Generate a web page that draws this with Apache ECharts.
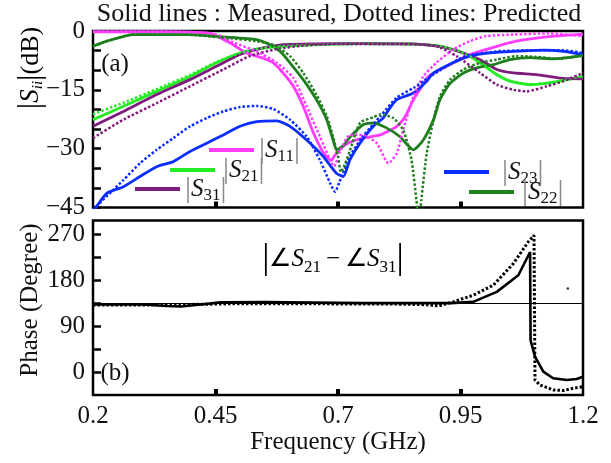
<!DOCTYPE html>
<html><head><meta charset="utf-8">
<script src="https://cdn.jsdelivr.net/npm/echarts@6/dist/echarts.min.js"></script>
<style>html,body{margin:0;padding:0;background:#fff}#c{width:611px;height:463px}</style>
</head><body><div id="c"></div>
<script>
const FONT = '"Liberation Serif","Times New Roman",serif';

// ---- axes / ticks ----
const xTickLabels = [0.2, 0.45, 0.7, 0.95, 1.2];
const xInnerTicks = [0.45, 0.7, 0.95];
const dbLabels = [0, -15, -30, -45];
const dbTicks = [0, -5, -10, -15, -20, -25, -30, -35, -40, -45];
const phaseLabels = [0, 90, 180, 270];
const phaseTicks = [0, 45, 90, 135, 180, 225, 270];
const phaseRef = 135;

// ---- |S11| ----
const s11MeasF = [0.2,0.3,0.4,0.44,0.452,0.486,0.513,0.547,0.568,0.588,0.609,0.629,0.65,0.67,0.686,0.692,0.7,0.72,0.751,0.786,0.82,0.837,0.854,0.871,0.884,0.922,0.969,1.024,1.064,1.126,1.2];
const s11MeasDb = [-0.2,-0.2,-0.3,-0.6,-1.3,-3.5,-5.6,-6.9,-8.1,-10.7,-14.1,-19.2,-26,-31,-33,-32,-30.5,-28.6,-27.3,-26.5,-24.3,-21.8,-17.5,-14.1,-11.6,-9,-6,-3.9,-2.6,-1.5,-0.8];
const s11PredF = [0.2,0.3,0.4,0.45,0.486,0.534,0.575,0.609,0.636,0.663,0.684,0.692,0.705,0.724,0.751,0.779,0.803,0.82,0.833,0.854,0.874,0.901,0.935,0.969,1.003,1.058,1.13,1.2];
const s11PredDb = [-0.1,-0.1,-0.3,-0.8,-2.9,-5.2,-8.1,-12,-19.2,-26.9,-32.9,-34.5,-30.5,-26.5,-26.5,-28.6,-33.7,-31.2,-25.2,-16.7,-11.6,-8.1,-4.7,-2.6,-1.3,-0.9,-0.6,-1.3];

// ---- |S21| ----
const s21MeasF = [0.2,0.262,0.33,0.398,0.452,0.5,0.548,0.588,0.65,0.75,0.85,0.908,0.956,0.99,1.024,1.051,1.092,1.126,1.16,1.2];
const s21MeasDb = [-22.6,-19.2,-15.4,-11.6,-8.1,-5.6,-4.3,-3.9,-3.5,-3.2,-3.3,-3.9,-5.6,-8.1,-11.1,-12.8,-13.7,-13.3,-12.6,-11.7];
const s21PredF = [0.2,0.262,0.33,0.398,0.452,0.5,0.548,0.6,0.7,0.8,0.9,0.95,0.99,1.024,1.058,1.1,1.14,1.2];
const s21PredDb = [-21.2,-18.3,-14.8,-11.2,-7.9,-5.6,-4.4,-3.8,-3.3,-3.3,-3.7,-5.2,-8.0,-11.2,-13.0,-13.6,-13.0,-11.4];

// ---- |S31| ----
const s31MeasF = [0.2,0.262,0.33,0.398,0.452,0.5,0.548,0.588,0.65,0.75,0.85,0.9,0.922,0.956,0.99,1.024,1.058,1.105,1.153,1.2];
const s31MeasDb = [-24.3,-20.5,-16.2,-12.4,-9,-6,-4.3,-3.5,-3.3,-3.2,-3.3,-3.8,-4.3,-5.6,-7.3,-9.8,-10.7,-11.1,-12,-12.2];
const s31PredF = [0.2,0.262,0.33,0.398,0.466,0.52,0.575,0.63,0.7,0.8,0.88,0.908,0.942,0.99,1.024,1.058,1.085,1.126,1.16,1.2];
const s31PredDb = [-27.3,-22.6,-18.4,-14.1,-9.8,-6.4,-4.6,-3.7,-3.3,-3.3,-3.5,-4.2,-6.4,-10.7,-13.7,-15,-15.4,-14.1,-12.8,-10.7];

// ---- |S23| ----
const s23MeasF = [0.2,0.207,0.228,0.262,0.296,0.33,0.364,0.398,0.432,0.466,0.5,0.534,0.575,0.602,0.636,0.67,0.697,0.711,0.724,0.745,0.772,0.792,0.806,0.82,0.854,0.881,0.895,0.935,0.969,1.01,1.058,1.12,1.16,1.2];
const s23MeasDb = [-46.5,-44.8,-41.4,-39.7,-37.1,-34.6,-33.3,-30.7,-28.6,-26.5,-24.3,-23.1,-22.9,-24.3,-27.8,-32,-36.3,-37.1,-32.9,-28.6,-24.3,-22.2,-19.6,-17.5,-15.8,-12.8,-10.7,-8.1,-6.4,-5.6,-5.2,-4.9,-5.2,-6];
const s23PredF = [0.2,0.262,0.296,0.33,0.364,0.398,0.432,0.466,0.5,0.534,0.568,0.602,0.636,0.663,0.684,0.694,0.703,0.724,0.75,0.786,0.82,0.854,0.888,0.956,1.024,1.1,1.16,1.2];
const s23PredDb = [-45.5,-38,-33.7,-30.3,-27.3,-24.3,-22.2,-20.5,-19.4,-19.1,-19.9,-22.6,-26.9,-32.9,-38.8,-41,-38.5,-32,-27,-21.8,-17,-14.5,-11.6,-6.6,-5.2,-4.9,-4.9,-5.6];

// ---- |S22| ----
const s22MeasF = [0.2,0.228,0.282,0.33,0.398,0.466,0.534,0.561,0.582,0.602,0.629,0.656,0.677,0.69,0.697,0.711,0.724,0.751,0.772,0.799,0.826,0.854,0.874,0.895,0.908,0.929,0.956,0.983,1.017,1.051,1.092,1.14,1.2];
const s22MeasDb = [-3.9,-2.6,-0.9,-0.9,-0.9,-1.5,-2.2,-3.5,-5.2,-8.1,-12.4,-17.5,-22.6,-27.8,-30.3,-29.2,-27.1,-23.9,-23.4,-24.7,-26.9,-30.3,-27.8,-22.6,-17.5,-13.3,-10.7,-9.4,-8.6,-7.3,-6.8,-7.1,-6.3];
const s22PredF = [0.2,0.228,0.282,0.4,0.466,0.534,0.568,0.602,0.629,0.656,0.677,0.69,0.7,0.706,0.714,0.724,0.745,0.772,0.786,0.813,0.833,0.85,0.86,0.863,0.867,0.87,0.881,0.895,0.908,0.929,0.956,0.99,1.024,1.064,1.105,1.15,1.2];
const s22PredDb = [-3.9,-2.6,-0.9,-1.0,-1.7,-2.6,-3.5,-6.4,-10.7,-16.2,-21.7,-27,-32,-36,-34,-30.6,-23.4,-22,-21.3,-22.2,-25.2,-32.9,-43,-46,-46,-43,-31.2,-22.6,-16.7,-12.4,-9.8,-8.1,-7.3,-6.4,-6.6,-7.1,-6.2];

// ---- phase |∠S21 − ∠S31| ----
const phMeasF = [0.2,0.3,0.35,0.38,0.42,0.46,0.55,0.65,0.75,0.85,0.93,0.976,1.024,1.068,1.092,1.093,1.102,1.119,1.139,1.167,1.187,1.2];
const phMeasDeg = [133,133,130,129,133,137,137.5,136.5,135.5,135.5,135.5,138,157.5,190,235.5,63,31,1.6,-11.3,-14.6,-12.7,-8.2];
const phPredF = [0.2,0.3,0.4,0.5,0.6,0.7,0.8,0.88,0.905,0.935,0.976,1.017,1.058,1.088,1.1,1.102,1.112,1.139,1.16,1.18,1.2];
const phPredDeg = [132,132,133,134.5,134.5,134,134,132.5,130,138,151,170.6,212.9,255,268,-14.6,-24.4,-34,-35.3,-30.9,-27.6];
const phSpeck = [[1.169, 164]];

function zip(f, v) { return f.map((x, i) => [x, v[i]]); }

const COL = {S11: '#ff3cff', S21: '#26ec26', S31: '#7e1c7e', S23: '#0b2dff', S22: '#1f7f1f'};

function meas(name, f, v, z) {
  return {name, type: 'line', xAxisIndex: 0, yAxisIndex: 0, data: zip(f, v), showSymbol: false, symbol: 'none',
    smooth: 0.2, z: z || 3, lineStyle: {color: COL[name], width: 2.8}, itemStyle: {color: COL[name]}, clip: true};
}
function pred(name, f, v) {
  return {name: name + 'p', type: 'line', xAxisIndex: 0, yAxisIndex: 0, data: zip(f, v), showSymbol: false, symbol: 'none',
    smooth: 0.2, z: 4, lineStyle: {color: COL[name], width: 2.5, type: [2.5, 2]}, itemStyle: {color: COL[name]}, clip: true};
}

const richBase = {
  b: {fontFamily: FONT, fontSize: 30, lineHeight: 30, color: '#8a8a8a'},
  s: {fontFamily: FONT, fontSize: 25, fontStyle: 'italic', color: '#111'},
  sub: {fontFamily: FONT, fontSize: 17, lineHeight: 17, color: '#111', verticalAlign: 'bottom'}
};
function legendItem(name, left, top, gap) {
  const rich = Object.assign({}, richBase, {bl: Object.assign({}, richBase.b, {padding: [0, 0, 0, gap]})});
  return {
    data: [{name, icon: 'rect'}], left, top, padding: 0, itemWidth: 45, itemHeight: 4, selectedMode: false,
    formatter: n => '{bl||}{s|S}{sub|' + n.slice(1) + '}{b||}',
    textStyle: {rich}
  };
}

const tickStyle = {color: '#000', width: 2.5};
const xTickStyle = {color: '#000', width: 4};
const labelStyle = {fontFamily: FONT, fontSize: 25, color: '#111'};
const minus = v => (v < 0 ? '\u2212' + Math.abs(v) : String(v));

const option = {
  animation: false,
  backgroundColor: '#fff',
  grid: [
    {left: 93, top: 31, width: 490, height: 176.5, show: true, borderColor: '#000', borderWidth: 2.5, backgroundColor: 'transparent'},
    {left: 93, top: 220.5, width: 490, height: 174.5, show: true, borderColor: '#000', borderWidth: 2.5, backgroundColor: 'transparent'}
  ],
  xAxis: [
    {gridIndex: 0, type: 'value', min: 0.2, max: 1.2, position: 'bottom', axisLine: {show: false, onZero: false}, splitLine: {show: false},
      axisTick: {show: true, inside: true, length: 6, customValues: xInnerTicks, lineStyle: xTickStyle},
      axisLabel: {show: false}},
    {gridIndex: 1, type: 'value', min: 0.2, max: 1.2, position: 'bottom', axisLine: {show: false, onZero: false}, splitLine: {show: false},
      axisTick: {show: true, inside: true, length: 6, customValues: xInnerTicks, lineStyle: xTickStyle},
      axisLabel: Object.assign({show: true, customValues: xTickLabels, formatter: v => String(v), margin: 9}, labelStyle),
      name: 'Frequency (GHz)', nameLocation: 'middle', nameGap: 30, nameTextStyle: labelStyle}
  ],
  yAxis: [
    {gridIndex: 0, type: 'value', min: -45, max: 0, axisLine: {show: false, onZero: false}, splitLine: {show: false},
      axisTick: {show: true, inside: true, length: 8, customValues: dbTicks, lineStyle: tickStyle},
      axisLabel: Object.assign({show: true, customValues: dbLabels, formatter: minus, margin: 8}, labelStyle)},
    {gridIndex: 1, type: 'value', min: -44, max: 297, axisLine: {show: false, onZero: false}, splitLine: {show: false},
      axisTick: {show: true, inside: true, length: 8, customValues: phaseTicks, lineStyle: tickStyle},
      axisLabel: Object.assign({show: true, customValues: phaseLabels, formatter: minus, margin: 8}, labelStyle)}
  ],
  legend: [
    legendItem('S11', 209, 135, 0),
    legendItem('S21', 170, 155, 3),
    legendItem('S31', 135, 174, 0),
    legendItem('S23', 444, 157, 8),
    legendItem('S22', 469, 177, 3)
  ],
  graphic: [
    {type: 'text', x: 339, y: 14, silent: true,
      style: {text: 'Solid lines : Measured, Dotted lines: Predicted', font: '26px ' + FONT, fill: '#111', align: 'center', verticalAlign: 'middle'}},
    {type: 'text', x: 115, y: 64, silent: true,
      style: {text: '(a)', font: '25px ' + FONT, fill: '#111', align: 'center', verticalAlign: 'middle'}},
    {type: 'text', x: 115, y: 373, silent: true,
      style: {text: '(b)', font: '25px ' + FONT, fill: '#111', align: 'center', verticalAlign: 'middle'}},
    {type: 'text', x: 333, y: 259, silent: true,
      style: {text: '{B||}{t|\u2220}{s|S}{sub|21}{t|\u2009\u2212\u2009\u2220}{s|S}{sub|31}{B||}', align: 'center', verticalAlign: 'middle',
        rich: {
          B: {fontFamily: FONT, fontSize: 36, lineHeight: 34, color: '#444'},
          t: {fontFamily: FONT, fontSize: 25, color: '#111'},
          s: {fontFamily: FONT, fontSize: 25, fontStyle: 'italic', color: '#111'},
          sub: {fontFamily: FONT, fontSize: 17, lineHeight: 17, color: '#111', verticalAlign: 'bottom'}
        }}},
    {type: 'text', x: 31, y: 68, rotation: Math.PI / 2, silent: true,
      style: {text: '{b||}{s|S}{sub|ii}{b||}{t|(dB)}', align: 'center', verticalAlign: 'middle',
        rich: {
          b: {fontFamily: FONT, fontSize: 32, lineHeight: 30, color: '#222'},
          t: {fontFamily: FONT, fontSize: 26, color: '#111'},
          s: {fontFamily: FONT, fontSize: 27, fontStyle: 'italic', color: '#111'},
          sub: {fontFamily: FONT, fontSize: 15, lineHeight: 15, fontStyle: 'italic', color: '#111', verticalAlign: 'bottom'}
        }}},
    {type: 'text', x: 30, y: 300, rotation: Math.PI / 2, silent: true,
      style: {text: 'Phase (Degree)', font: '25px ' + FONT, fill: '#111', align: 'center', verticalAlign: 'middle'}}
  ],
  series: [
    meas('S21', s21MeasF, s21MeasDb),
    meas('S31', s31MeasF, s31MeasDb),
    meas('S11', s11MeasF, s11MeasDb),
    meas('S23', s23MeasF, s23MeasDb),
    meas('S22', s22MeasF, s22MeasDb),
    pred('S21', s21PredF, s21PredDb),
    pred('S31', s31PredF, s31PredDb),
    pred('S11', s11PredF, s11PredDb),
    pred('S23', s23PredF, s23PredDb),
    pred('S22', s22PredF, s22PredDb),
    {name: 'phase measured', type: 'line', xAxisIndex: 1, yAxisIndex: 1, data: zip(phMeasF, phMeasDeg), showSymbol: false, symbol: 'none',
      lineStyle: {color: '#000', width: 2.6}, itemStyle: {color: '#000'}, z: 3,
      markLine: {silent: true, symbol: 'none', label: {show: false}, lineStyle: {color: '#000', width: 1, type: 'solid'}, data: [{yAxis: phaseRef}]}},
    {name: 'phase predicted', type: 'line', xAxisIndex: 1, yAxisIndex: 1, data: zip(phPredF, phPredDeg), showSymbol: false, symbol: 'none',
      lineStyle: {color: '#000', width: 3, type: [2.5, 2]}, itemStyle: {color: '#000'}, z: 4},
    {name: 'speck', type: 'scatter', xAxisIndex: 1, yAxisIndex: 1, data: phSpeck, symbolSize: 2.5, itemStyle: {color: '#000'}, silent: true}
  ]
};

const chart = echarts.init(document.getElementById('c'), null, {renderer: 'canvas'});
chart.setOption(option);
</script>
</body></html>
